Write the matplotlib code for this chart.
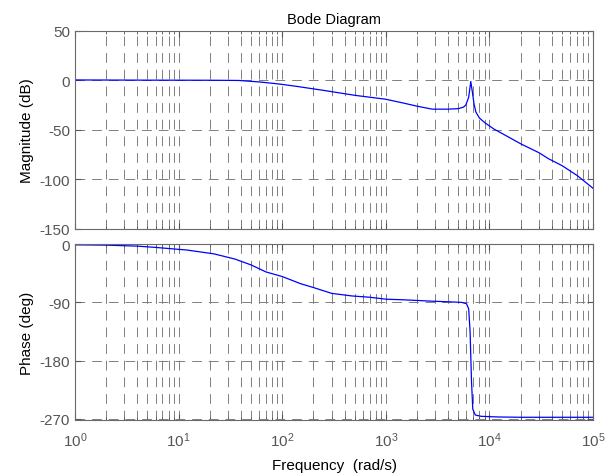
import matplotlib
matplotlib.use("Agg")
import matplotlib.pyplot as plt
from matplotlib.ticker import LogLocator, NullFormatter

plt.rcParams["font.family"] = ["Liberation Sans", "DejaVu Sans"]
plt.rcParams["lines.scale_dashes"] = False
plt.rcParams["axes.unicode_minus"] = False

# magnitude (rad/s, dB)
mag_w = [1, 5, 20, 38, 60, 83, 100, 138, 250, 500, 1000, 1500, 2000, 2800,
         4000, 5000, 5600, 5900, 6300, 6600, 6800, 7100, 7400, 8000, 9100,
         11000, 14000, 20000, 30000, 37000, 50000, 70000, 100000]
mag_db = [0.5, 0.3, 0.2, 0, -1.5, -3, -4, -6, -10, -15, -19, -23, -26, -29,
          -29, -28.5, -27, -25, -17, -1, -10, -24, -32, -38, -43,
          -49, -55, -64, -73, -79, -86, -96, -109]

# phase (rad/s, deg)
ph_w = [1, 2, 4, 6, 10, 12, 22, 35, 50, 70, 100, 150, 200, 300, 470, 700,
        1000, 1500, 2700, 4000, 5400, 6000, 6300, 6500, 6700, 6900, 7300,
        8300, 12000, 20000, 100000]
ph_deg = [-1, -1.5, -3, -5, -8, -9, -15, -23, -32, -43, -50, -61, -67, -76,
          -80, -82, -85, -86, -88, -89, -90, -92, -100, -135, -210, -255,
          -264, -266, -267, -267.5, -267.5]

mag_ticks = [50, 0, -50, -100, -150]
ph_ticks = [0, -90, -180, -270]

fig = plt.figure(figsize=(6.14, 4.77), dpi=100)
ax1 = fig.add_axes([0.122, 0.518, 0.844, 0.415])
ax2 = fig.add_axes([0.122, 0.117, 0.844, 0.369], sharex=ax1)

grid_kw = dict(color="#7f7f7f", linestyle=(0, (7, 5)), linewidth=0.7)
for ax in (ax1, ax2):
    ax.set_xscale("log")
    ax.set_xlim(1, 1e5)
    ax.xaxis.set_major_locator(LogLocator(base=10, numticks=10))
    ax.xaxis.set_minor_locator(LogLocator(base=10, subs=range(2, 10), numticks=10))
    ax.xaxis.set_minor_formatter(NullFormatter())
    ax.grid(True, which="major", **grid_kw)
    ax.grid(True, which="minor", axis="x", **grid_kw)
    ax.tick_params(which="both", direction="in", colors="#555555",
                   labelsize=11, top=True, right=True)
    ax.tick_params(which="major", length=4)
    ax.tick_params(which="minor", length=2)
    ax.tick_params(axis="x", pad=7)
    for s in ax.spines.values():
        s.set_color("#6a6a6a")

ax1.plot(mag_w, mag_db, color="blue", lw=0.9)
ax1.set_ylim(-150, 50)
ax1.set_yticks(mag_ticks)
ax1.set_ylabel("Magnitude (dB)", fontsize=11)
ax1.set_title("Bode Diagram", fontsize=10.5, pad=6)
ax1.tick_params(labelbottom=False)

ax2.plot(ph_w, ph_deg, color="blue", lw=0.9)
ax2.set_ylim(-272, 0)
ax2.set_yticks(ph_ticks)
ax2.set_ylabel("Phase (deg)", fontsize=11)
ax2.set_xlabel("Frequency  (rad/s)", fontsize=11, labelpad=7)

fig.savefig("out.png", dpi=100)
